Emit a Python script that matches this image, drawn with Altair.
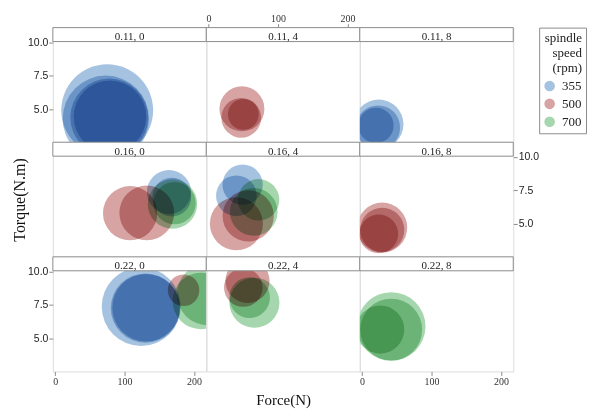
import altair as alt
import pandas as pd

# ---- data ----
feed = ["0.11", "0.11", "0.11", "0.11",
        "0.11", "0.11", "0.11",
        "0.11", "0.11", "0.11",
        "0.16", "0.16", "0.16", "0.16", "0.16", "0.16",
        "0.16", "0.16", "0.16", "0.16", "0.16", "0.16",
        "0.16", "0.16", "0.16",
        "0.22", "0.22", "0.22", "0.22", "0.22", "0.22",
        "0.22", "0.22", "0.22", "0.22",
        "0.22", "0.22", "0.22"]
depth = ["0", "0", "0", "0",
         "4", "4", "4",
         "8", "8", "8",
         "0", "0", "0", "0", "0", "0",
         "4", "4", "4", "4", "4", "4",
         "8", "8", "8",
         "0", "0", "0", "0", "0", "0",
         "4", "4", "4", "4",
         "8", "8", "8"]
speed = ["355", "355", "355", "355",
         "500", "500", "500",
         "355", "355", "355",
         "355", "355", "500", "500", "700", "700",
         "355", "355", "500", "500", "700", "700",
         "500", "500", "500",
         "355", "355", "355", "500", "700", "700",
         "500", "500", "700", "700",
         "700", "700", "700"]
force = [75, 73, 79, 78,
         48, 47, 50,
         24, 23, 20,
         164, 168, 108, 132, 169, 172,
         49, 40, 40, 57, 72, 65,
         29, 29, 24,
         124, 130, 131, 185, 210, 220,
         56, 50, 66, 59,
         42, 42, 26]
torque = [4.93, 4.30, 4.45, 4.40,
          5.04, 4.37, 4.63,
          3.89, 3.65, 3.80,
          7.38, 7.00, 5.80, 5.82, 6.49, 6.55,
          7.93, 7.10, 5.02, 5.60, 6.80, 5.90,
          4.73, 4.56, 4.26,
          7.38, 7.27, 7.30, 8.60, 7.80, 8.30,
          9.30, 8.80, 7.67, 8.05,
          5.90, 5.67, 5.67]
size = [85, 75, 53, 61,
        20.4, 15.9, 9.6,
        24.6, 19.6, 12.6,
        19.6, 15.2, 29.6, 30.2, 24.6, 18.0,
        16.3, 16.6, 28.3, 26.4, 17.3, 22.9,
        25.2, 19.6, 15.2,
        62.8, 48.3, 46.0, 10.0, 32.2, 38.5,
        19.6, 15.0, 25.2, 16.6,
        47.3, 38.5, 23.4]

panel_feeds = ["0.11", "0.16", "0.22"]
panel_depths = ["0", "4", "8"]
speed_levels = ["355", "500", "700"]
speed_colors = ["#a5c3e1", "#d7a3a3", "#a6d6ae"]
x_ticks = [0, 100, 200]
y_ticks = [5, 7.5, 10]

df = pd.DataFrame(dict(feed=feed, depth=depth, speed=speed,
                       force=force, torque=torque, size=size))

W, H, STRIP = 154, 115, 14
XDOM = [-3.3, 217.8]
YDOM = [2.55, 11.09]
GRAY = "#8c8c8c"
SERIF = "Liberation Serif"
SANS = "Liberation Sans"


def x_axis(r, c):
    if r == 2 and c in (0, 2):
        return alt.Axis(orient="bottom", values=x_ticks, format="d", grid=False,
                        domain=False, tickSize=4, tickColor=GRAY, labelFont=SERIF,
                        labelFontSize=10, labelColor="#333", labelPadding=1, title=None)
    if r == 0 and c == 1:
        return alt.Axis(orient="top", values=x_ticks, format="d", grid=False,
                        domain=False, tickSize=4, tickColor=GRAY, labelFont=SERIF,
                        labelFontSize=10, labelColor="#333", labelPadding=0, title=None)
    if r == 2 and c == 1:
        return alt.Axis(orient="bottom", labels=False, ticks=False, grid=False,
                        domain=False, title="Force(N)", titleFont=SERIF,
                        titleFontSize=15, titleFontWeight="normal", titleColor="#111",
                        titlePadding=21)
    return None


def y_axis(r, c):
    if c == 0 and r in (0, 2):
        return alt.Axis(orient="left", values=y_ticks, format=".1f", grid=False,
                        domain=False, tickSize=4, tickColor=GRAY, labelFont=SANS,
                        labelFontSize=10.5, labelColor="#222", labelPadding=1, title=None)
    if c == 2 and r == 1:
        return alt.Axis(orient="right", values=y_ticks, format=".1f", grid=False,
                        domain=False, tickSize=4, tickColor=GRAY, labelFont=SANS,
                        labelFontSize=10.5, labelColor="#222", labelPadding=1, title=None)
    if c == 0 and r == 1:
        return alt.Axis(orient="left", labels=False, ticks=False, grid=False,
                        domain=False, title="Torque(N.m)", titleFont=SERIF,
                        titleFontSize=16, titleFontWeight="normal", titleColor="#111",
                        titlePadding=25)
    return None


cells = []
for r, f in enumerate(panel_feeds):
    for c, d in enumerate(panel_depths):
        legend = None
        if r == 0 and c == 0:
            legend = alt.Legend(
                orient="none", legendX=488, legendY=0,
                title=["spindle", "speed", "(rpm)"],
                titleFont=SERIF, titleFontSize=13, titleFontWeight="normal",
                titleColor="#222", titleAlign="right", titleAnchor="end",
                titleLineHeight=15.5, titlePadding=4,
                labelFont=SERIF, labelFontSize=13, labelColor="#222",
                labelOffset=6, symbolType="circle", symbolSize=113,
                symbolStrokeWidth=0, symbolOpacity=1, rowPadding=4,
                strokeColor=GRAY, padding=4)
        circles = alt.Chart(df).transform_filter(
            (alt.datum.feed == f) & (alt.datum.depth == d)
        ).mark_circle(opacity=1, blend="multiply", clip=True).encode(
            x=alt.X("force:Q", scale=alt.Scale(domain=XDOM, nice=False, zero=False),
                    axis=x_axis(r, c)),
            y=alt.Y("torque:Q", scale=alt.Scale(domain=YDOM, nice=False, zero=False),
                    axis=y_axis(r, c)),
            size=alt.Size("size:Q", scale=alt.Scale(domain=[0, 100], range=[0, 10000]),
                          legend=None),
            color=alt.Color("speed:N", scale=alt.Scale(domain=speed_levels,
                                                       range=speed_colors),
                            legend=legend),
        )
        strip_df = pd.DataFrame({"label": [f"{f}, {d}"]})
        strip = alt.Chart(strip_df).mark_rect(
            fill="white", stroke=GRAY, strokeWidth=1
        ).encode(x=alt.value(0), x2=alt.value(W), y=alt.value(0), y2=alt.value(STRIP))
        strip_text = alt.Chart(strip_df).mark_text(
            font=SERIF, fontSize=11, color="#222", baseline="alphabetic"
        ).encode(x=alt.value(W / 2), y=alt.value(STRIP - 1.5), text="label:N")
        cells.append(alt.layer(circles, strip, strip_text).properties(width=W, height=H))

chart = alt.concat(*cells, columns=3, spacing=0, bounds="flush").resolve_scale(
    x="independent", y="independent", size="independent", color="shared"
).properties(
    padding={"left": 3, "top": 4, "right": 0, "bottom": 0}
).configure_view(stroke=GRAY, strokeWidth=1).configure(background="white")

chart.save("out.html", embed_options={"renderer": "svg", "actions": False})
